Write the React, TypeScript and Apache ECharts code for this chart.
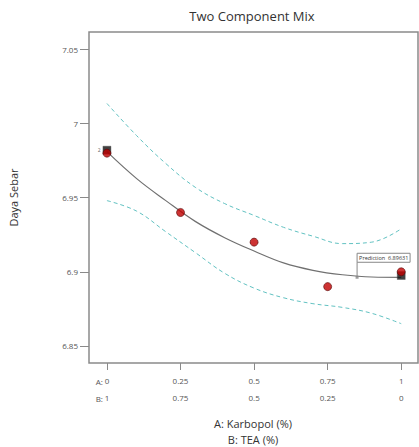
import React, { useEffect, useRef } from "react";
import * as echarts from "echarts";

const designA = [0, 0.25, 0.5, 0.75, 1];
const observed = [6.98, 6.94, 6.92, 6.89, 6.9];
const curveA = [0, 0.1, 0.2, 0.3, 0.4, 0.5, 0.6, 0.7, 0.8, 0.9, 1];
const fitted = [6.981, 6.963, 6.948, 6.934, 6.923, 6.914, 6.906, 6.901, 6.898, 6.8965, 6.8963];
const upperCI = [7.0135, 6.992, 6.973, 6.957, 6.946, 6.938, 6.93, 6.924, 6.919, 6.92, 6.929];
const lowerCI = [6.948, 6.941, 6.927, 6.913, 6.899, 6.889, 6.8825, 6.8785, 6.876, 6.872, 6.865];
const squareA = [0, 1];
const squareVals = [6.982, 6.8975];
const replicateLabels = ["2", ""];
const predA = 0.85;
const predValue = 6.89631;
const yTicks = [6.85, 6.9, 6.95, 7, 7.05];
const xTicks = [0, 0.25, 0.5, 0.75, 1];
const tickLabelsA = ["0", "0.25", "0.5", "0.75", "1"];
const tickLabelsB = ["1", "0.75", "0.5", "0.25", "0"];

const FONT = "'Open Sans', 'Noto Sans', sans-serif";

export default function App() {
  const ref = useRef<HTMLDivElement>(null);
  useEffect(() => {
    if (!ref.current) return;
    const chart = echarts.init(ref.current, undefined, { renderer: "svg" });
    const dash = { color: "#62c2c2", width: 1, type: [4, 3] as number[] };
    chart.setOption({
      animation: false,
      grid: {
        left: 87,
        top: 32,
        right: 1,
        bottom: 84,
        show: true,
        borderColor: "#8a8a8a",
        borderWidth: 1.5,
        backgroundColor: "#fff",
      },
      xAxis: {
        type: "value",
        min: -0.061,
        max: 1.057,
        splitLine: { show: false },
        axisLine: { show: false, onZero: false },
        axisTick: {
          show: true,
          length: 7,
          customValues: xTicks,
          lineStyle: { color: "#8a8a8a", width: 1 },
        },
        axisLabel: {
          customValues: xTicks,
          fontFamily: FONT,
          fontSize: 8,
          color: "#555",
          lineHeight: 17,
          margin: 9,
          formatter: (v: number) => {
            const i = xTicks.indexOf(v);
            return i >= 0 ? `${tickLabelsA[i]}\n${tickLabelsB[i]}` : "";
          },
        },
      },
      yAxis: {
        type: "value",
        min: 6.8385,
        max: 7.0617,
        splitLine: { show: false },
        axisLine: { show: false, onZero: false },
        name: "Daya Sebar",
        nameLocation: "middle",
        nameGap: 70,
        nameTextStyle: { fontFamily: FONT, fontSize: 11, color: "#333" },
        axisTick: {
          show: true,
          length: 9,
          customValues: yTicks,
          lineStyle: { color: "#8a8a8a", width: 1 },
        },
        axisLabel: {
          customValues: yTicks,
          fontFamily: FONT,
          fontSize: 8,
          color: "#555",
          margin: 11,
          formatter: (v: number) => String(v),
        },
      },
      series: [
        {
          type: "line",
          data: curveA.map((a, i) => [a, upperCI[i]]),
          smooth: 0.4,
          showSymbol: false,
          lineStyle: dash,
          silent: true,
        },
        {
          type: "line",
          data: curveA.map((a, i) => [a, lowerCI[i]]),
          smooth: 0.4,
          showSymbol: false,
          lineStyle: dash,
          silent: true,
        },
        {
          type: "line",
          data: curveA.map((a, i) => [a, fitted[i]]),
          smooth: 0.4,
          showSymbol: false,
          lineStyle: { color: "#707070", width: 1.2 },
          silent: true,
        },
        {
          type: "scatter",
          data: squareA.map((a, i) => ({
            value: [a, squareVals[i]],
            label: {
              show: replicateLabels[i] !== "",
              formatter: replicateLabels[i],
              position: "left",
              distance: 2,
              fontSize: 5,
              fontFamily: FONT,
              color: "#333",
            },
          })),
          symbol: "rect",
          symbolSize: 8,
          itemStyle: { color: "#111", borderColor: "#555", borderWidth: 0.5 },
          z: 3,
        },
        {
          type: "scatter",
          data: designA.map((a, i) => [a, observed[i]]),
          symbol: "circle",
          symbolSize: 8,
          itemStyle: { color: "#c00000", borderColor: "#5a0a0a", borderWidth: 0.8 },
          z: 4,
        },
        {
          type: "scatter",
          data: [[predA, predValue]],
          symbol: "rect",
          symbolSize: 3,
          itemStyle: { color: "#888" },
          z: 5,
        },
      ],
    });

    const [px, py] = chart.convertToPixel({ gridIndex: 0 }, [predA, predValue]) as number[];
    const leftA = chart.convertToPixel({ gridIndex: 0 }, [0, 7])[0] as number;
    chart.setOption({
      graphic: [
        {
          type: "text",
          x: 252,
          y: 16,
          style: { text: "Two Component Mix", fontSize: 13, fontFamily: FONT, fill: "#333", align: "center", verticalAlign: "middle" },
        },
        {
          type: "line",
          shape: { x1: px, y1: py, x2: px, y2: py - 15 },
          style: { stroke: "#888", lineWidth: 1 },
          z: 10,
        },
        {
          type: "rect",
          shape: { x: px, y: py - 24, width: 53, height: 9 },
          style: { fill: "#fff", stroke: "#888", lineWidth: 1 },
          z: 10,
        },
        {
          type: "text",
          x: px + 2,
          y: py - 19.5,
          style: {
            text: "Prediction  " + predValue.toFixed(5),
            fontSize: 5.5,
            fontFamily: FONT,
            fill: "#333",
            verticalAlign: "middle",
          },
          z: 11,
        },
        {
          type: "text",
          x: leftA - 4,
          y: 381.5,
          style: { text: "A:", fontSize: 8, fontFamily: FONT, fill: "#555", align: "right", verticalAlign: "middle" },
        },
        {
          type: "text",
          x: leftA - 4,
          y: 398.5,
          style: { text: "B:", fontSize: 8, fontFamily: FONT, fill: "#555", align: "right", verticalAlign: "middle" },
        },
        {
          type: "text",
          x: 253,
          y: 423,
          style: { text: "A: Karbopol (%)", fontSize: 11, fontFamily: FONT, fill: "#333", align: "center", verticalAlign: "middle" },
        },
        {
          type: "text",
          x: 253,
          y: 439,
          style: { text: "B: TEA (%)", fontSize: 11, fontFamily: FONT, fill: "#333", align: "center", verticalAlign: "middle" },
        },
      ],
    });
    return () => chart.dispose();
  }, []);
  return <div ref={ref} style={{ width: 419, height: 447, position: "absolute", left: 0, top: 0 }} />;
}
